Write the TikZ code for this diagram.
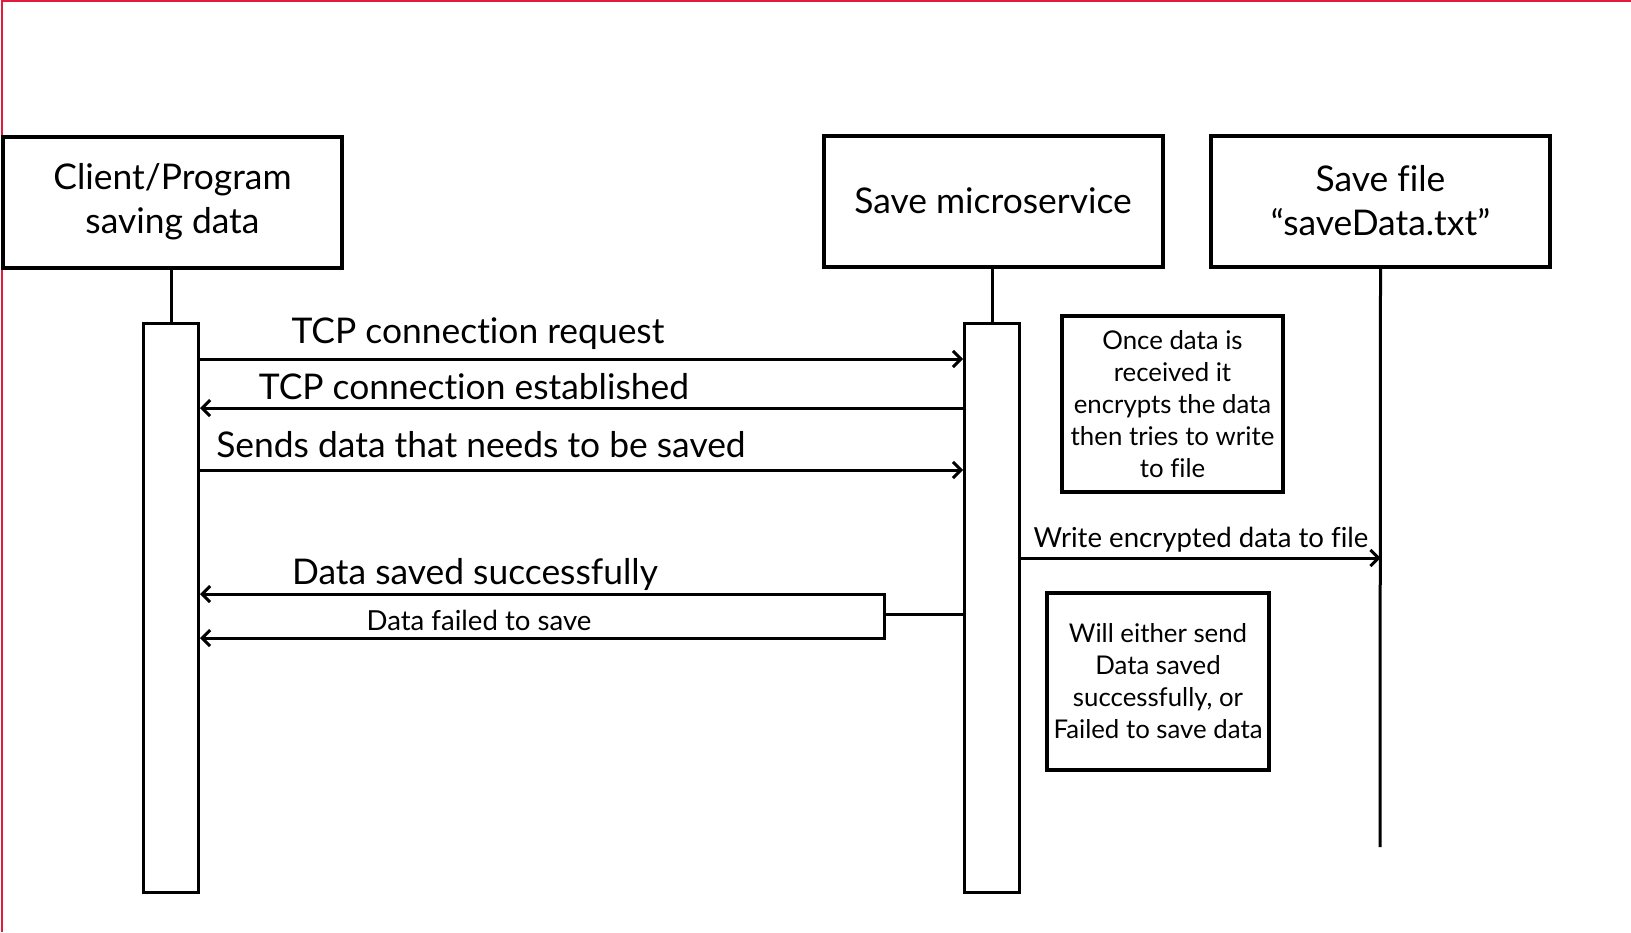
\documentclass[tikz,border=0pt]{standalone}
\usepackage{fontspec}
\setmainfont{Lato}[Ligatures=NoCommon]
\usetikzlibrary{arrows.meta}
\definecolor{framered}{RGB}{224,27,60}

\begin{document}
\begin{tikzpicture}[x=0.5pt,y=-0.5pt,
  head/.style={draw,line width=2pt,minimum width=169.5pt,minimum height=65.5pt,align=center,font=\fontsize{17.7}{22}\selectfont},
  actbox/.style={draw,line width=1.5pt,fill=white,minimum width=27.5pt,minimum height=284.5pt,anchor=north},
  note/.style={draw,line width=1.75pt,align=center,inner sep=0pt,font=\fontsize{12.9}{16}\selectfont},
  life/.style={line width=1.5pt},
  msg/.style={line width=1.5pt,-{Straight Barb[length=4pt,width=8pt]}},
  big/.style={font=\fontsize{17.7}{20}\selectfont},
  small/.style={font=\fontsize{13.8}{16}\selectfont}]
\useasboundingbox (0,0) rectangle (1631,932);
\draw[framered,line width=1pt] (1.5,932) -- (1.5,1) -- (1631,1);

\node[head] (client) at (172.5,202) {Client/Program\\saving data};
\node[head] (service) at (993,201) {Save microservice};
\node[head] (file) at (1380.5,201) {Save file\\“saveData.txt”};

\node[actbox] (cact) at (171,322) {};
\node[actbox] (sact) at (992,322) {};
\coordinate (fend) at (1380,847);
\draw[life] (cact.north |- client.south) -- (cact.north);
\draw[life] (sact.north |- service.south) -- (sact.north);
\draw[life] (file.south) -- (fend);

\coordinate (m1) at (0,359);
\coordinate (m2) at (0,408);
\coordinate (m3) at (0,470);
\coordinate (m4) at (0,558);
\draw[msg] (cact.east |- m1) -- (sact.west |- m1);
\draw[msg] (sact.west |- m2) -- (cact.east |- m2);
\draw[msg] (cact.east |- m3) -- (sact.west |- m3);
\draw[msg] (sact.east |- m4) -- (file.south |- m4);

\node[big] (l1) at (478,334) {TCP connection request};
\node[big] (l2) at (474,387) {TCP connection established};
\node[big] (l3) at (481,445) {Sends data that needs to be saved};
\node[small] (l6) at (1201,540) {Write encrypted data to file};

\coordinate (fork) at (884,614);
\coordinate (ok) at (884,594);
\coordinate (fail) at (884,638);
\draw[life] (sact.west |- fork) -- (fork);
\draw[msg] (fork) -- (ok) -- (cact.east |- ok);
\draw[msg] (fork) -- (fail) -- (cact.east |- fail);
\node[big] (l4) at (475,574) {Data saved successfully};
\node[small] (l5) at (479,620) {Data failed to save};

\node[note,minimum width=110.5pt,minimum height=88pt] (n1) at (1172.5,404)
  {Once data is\\received it\\encrypts the data\\then tries to write\\to file};
\node[note,minimum width=111pt,minimum height=88.5pt] (n2) at (1158,681.5)
  {Will either send\\Data saved\\successfully, or\\Failed to save data};

\end{tikzpicture}
\end{document}
